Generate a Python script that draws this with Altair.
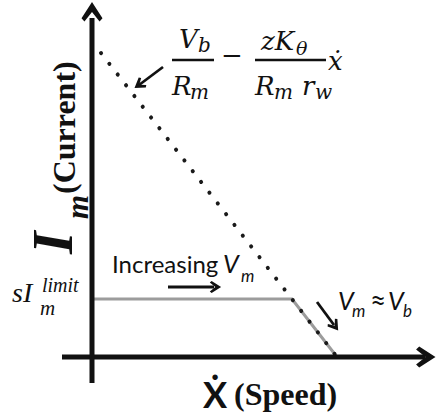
import altair as alt
import pandas as pd

INK = "#111111"
LIMIT_GREY = "#9c9c9c"

# Plot frame in speed / current units
SPEED_DOMAIN = [-9.2, 34.8]
CURRENT_DOMAIN = [-6.0, 35.7]

# Axis shafts
x_axis_speed = [-3.0, 33.3]
y_axis_current = [-2.6, 33.9]

# Back-EMF line: I = Vb/Rm - zK/(Rm rw) * x_dot
emf_speed = [0.9, 24.5]
emf_current = [30.4, 0.0]

# Current-limited operating curve
limit_speed = [0.0, 20.0, 24.5]
limit_current = [5.8, 5.8, 0.0]

# Fraction bars of the equation
bar_start = [8.0, 16.3]
bar_end = [12.2, 23.4]
bar_current = [29.7, 29.7]

# Equation pieces
eq_text = ["V", "b", "R", "m", "\u2212", "zK", "\u03b8", "R", "m", "r", "w", "\u1e8b"]
eq_speed = [8.7, 10.6, 8.0, 9.8, 12.9, 16.9, 20.4, 16.3, 18.2, 21.0, 22.3, 23.6]
eq_current = [30.9, 30.5, 26.2, 25.8, 29.3, 30.7, 30.2, 26.2, 25.8, 26.2, 25.8, 28.7]
eq_size = [26, 20, 26, 20, 26, 26, 19, 26, 20, 26, 20, 26]

# Current limit label  s I_m^limit
lim_text = ["sI", "limit", "m"]
lim_speed = [-8.0, -5.0, -5.2]
lim_current = [5.5, 6.5, 4.2]
lim_size = [28, 20, 21]

# Annotations in sans serif
note_text = ["Increasing", "\u2248"]
note_speed = [2.0, 27.8]
note_current = [8.4, 4.6]
note_size = [24, 28]

note_it_text = ["V", "m", "V", "m", "V", "b"]
note_it_speed = [13.1, 14.9, 24.6, 26.0, 29.6, 31.1]
note_it_current = [8.4, 7.5, 4.7, 4.0, 4.7, 4.0]
note_it_size = [25, 17, 25, 17, 25, 17]

# Axis titles
ylab_it_text = ["I", "m"]
ylab_it_speed = [-2.0, -0.4]
ylab_it_current = [10.3, 13.8]
ylab_it_size = [58, 31]

ylab_text = ["(Current)"]
ylab_speed = [-1.7]
ylab_current = [16.3]
ylab_size = [32]

xdot_text = ["\u1e8a"]
xdot_speed = [11.1]
xdot_current = [-5.1]
xdot_size = [36]

xlab_text = ["(Speed)"]
xlab_speed = [14.2]
xlab_current = [-4.8]
xlab_size = [32]

# Pointer arrows: shaft start/end and head
ptr_x1 = [7.1, 7.6, 22.5]
ptr_y1 = [29.0, 7.0, 5.5]
ptr_x2 = [4.7, 12.2, 24.2]
ptr_y2 = [27.2, 7.0, 3.2]
head_speed = [4.75, 12.3, 24.25, 0.0, 33.3]
head_current = [27.25, 7.0, 3.15, 34.45, 0.0]
head_angle = [234.5, 90, 143, 0, 90]
head_size = [150, 150, 150, 441, 441]

CHEVRON = "M0,-1L1,0.55L0.72,0.85L0,-0.05L-0.72,0.85L-1,0.55Z"

xs = alt.Scale(domain=SPEED_DOMAIN, nice=False, zero=False)
ys = alt.Scale(domain=CURRENT_DOMAIN, nice=False, zero=False)


def X(field="speed"):
    return alt.X(f"{field}:Q", scale=xs, axis=None)


def Y(field="current"):
    return alt.Y(f"{field}:Q", scale=ys, axis=None)


def polyline(sp, cu, **mark):
    df = pd.DataFrame({"speed": sp, "current": cu, "k": list(range(len(sp)))})
    return alt.Chart(df).mark_line(**mark).encode(x=X(), y=Y(), order="k:Q")


def texts(labels, sp, cu, sizes, font, style="normal", weight="normal", angle=0):
    df = pd.DataFrame({"label": labels, "speed": sp, "current": cu, "fs": sizes})
    return alt.Chart(df).mark_text(
        font=font, fontStyle=style, fontWeight=weight, align="left",
        baseline="alphabetic", angle=angle, color=INK,
    ).encode(x=X(), y=Y(), text="label:N", size=alt.Size("fs:Q", scale=None))


# Axes with arrowheads
x_axis = polyline(x_axis_speed, [0.0, 0.0], color=INK, strokeWidth=5)
y_axis = polyline([0.0, 0.0], y_axis_current, color=INK, strokeWidth=5)

emf = polyline(emf_speed, emf_current, color="#1a1a1a", strokeWidth=4,
               strokeDash=[0.1, 13.5], strokeCap="round")
limit = polyline(limit_speed, limit_current, color=LIMIT_GREY, strokeWidth=3)

bars = alt.Chart(pd.DataFrame({"s0": bar_start, "s1": bar_end, "current": bar_current})).mark_rule(
    color=INK, strokeWidth=2.4
).encode(x=X("s0"), x2="s1:Q", y=Y())

pointers = alt.Chart(pd.DataFrame({"a": ptr_x1, "b": ptr_y1, "c": ptr_x2, "d": ptr_y2})).mark_rule(
    color=INK, strokeWidth=2.8
).encode(x=X("a"), y=Y("b"), x2="c:Q", y2="d:Q")

heads = alt.Chart(pd.DataFrame({"speed": head_speed, "current": head_current,
                                "ang": head_angle, "sz": head_size})).mark_point(
    shape=CHEVRON, filled=True, color=INK, opacity=1, strokeWidth=0
).encode(x=X(), y=Y(), angle=alt.Angle("ang:Q", scale=None), size=alt.Size("sz:Q", scale=None))

eq = texts(eq_text, eq_speed, eq_current, eq_size, "DejaVu Serif", style="italic")
lim = texts(lim_text, lim_speed, lim_current, lim_size, "Liberation Serif", style="italic")
notes = texts(note_text, note_speed, note_current, note_size, "Lato")
notes_it = texts(note_it_text, note_it_speed, note_it_current, note_it_size, "Lato", style="italic")
ylab_it = texts(ylab_it_text, ylab_it_speed, ylab_it_current, ylab_it_size, "Liberation Serif",
                style="italic", weight="bold", angle=270)
ylab = texts(ylab_text, ylab_speed, ylab_current, ylab_size, "Liberation Serif", weight="bold", angle=270)
xdot = texts(xdot_text, xdot_speed, xdot_current, xdot_size, "Lato", weight="bold")
xlab = texts(xlab_text, xlab_speed, xlab_current, xlab_size, "Liberation Serif", weight="bold")

chart = alt.layer(
    limit, emf, x_axis, y_axis, bars, pointers, heads,
    eq, lim, notes, notes_it, ylab_it, ylab, xdot, xlab,
).properties(
    width=440, height=417, padding=0, autosize=alt.AutoSizeParams(type="none"),
    background="white",
).configure_view(stroke=None)

chart.save("out.html", embed_options={"renderer": "svg", "actions": False})
